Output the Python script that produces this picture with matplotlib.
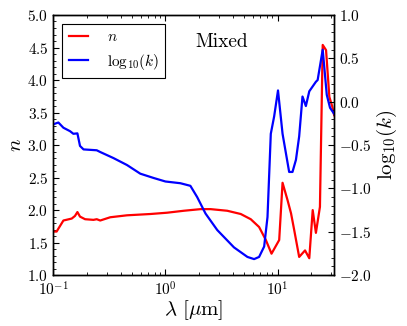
import matplotlib
matplotlib.use("Agg")
import matplotlib.pyplot as plt
from matplotlib.ticker import MultipleLocator

plt.rcParams['font.family'] = 'serif'
plt.rcParams['font.serif'] = ['cmr10']
plt.rcParams['mathtext.fontset'] = 'cm'
plt.rcParams['axes.formatter.use_mathtext'] = True

# refractive index n(lambda)
lam_n = [0.100, 0.107, 0.123, 0.146, 0.156, 0.164, 0.173, 0.192, 0.228, 0.244,
         0.262, 0.322, 0.454, 0.734, 1.035, 1.46, 2.06, 2.53, 3.56, 4.70,
         5.77, 6.85, 7.87, 8.84, 10.35, 11.09, 12.3, 13.2, 14.1, 15.6,
         17.6, 19.2, 20.6, 22.0, 23.9, 25.3, 27.1, 29.0, 30.7, 32.0]
n_vals = [1.67, 1.67, 1.84, 1.87, 1.91, 1.97, 1.90, 1.86, 1.85, 1.86,
          1.84, 1.89, 1.92, 1.94, 1.96, 1.99, 2.015, 2.015, 1.99, 1.94,
          1.86, 1.74, 1.54, 1.33, 1.54, 2.42, 2.15, 1.95, 1.69, 1.28,
          1.38, 1.26, 2.00, 1.65, 2.05, 4.54, 4.46, 3.74, 3.60, 3.46]

# log10 of extinction coefficient k(lambda)
lam_k = [0.100, 0.111, 0.123, 0.141, 0.151, 0.164, 0.173, 0.186, 0.244, 0.262,
         0.344, 0.454, 0.597, 0.787, 1.00, 1.36, 1.67, 1.92, 2.28, 2.90,
         4.09, 5.39, 6.18, 6.85, 7.60, 8.14, 8.71, 9.33, 10.1, 11.09,
         12.7, 13.6, 14.6, 15.6, 16.7, 17.9, 19.2, 22.0, 22.8, 25.3,
         27.5, 29.4, 32.0]
logk_vals = [-0.26, -0.24, -0.30, -0.34, -0.37, -0.365, -0.51, -0.55, -0.56, -0.58,
             -0.65, -0.73, -0.83, -0.88, -0.92, -0.94, -0.97, -1.10, -1.29, -1.48,
             -1.68, -1.79, -1.815, -1.79, -1.67, -1.33, -0.37, -0.17, 0.13, -0.37,
             -0.81, -0.81, -0.67, -0.40, 0.06, -0.05, 0.12, 0.23, 0.25, 0.60,
             0.08, -0.07, -0.14]

fig = plt.figure(figsize=(4.07, 3.26), dpi=100)
ax = fig.add_axes([0.131, 0.156, 0.690, 0.798])
ax2 = ax.twinx()

l1, = ax.plot(lam_n, n_vals, color='red', lw=1.6)
l2, = ax2.plot(lam_k, logk_vals, color='blue', lw=1.6)

ax.set_xscale('log')
ax.set_xlim(0.1, 32)
ax.set_ylim(1.0, 5.0)
ax2.set_ylim(-2.0, 1.0)
ax.yaxis.set_major_locator(MultipleLocator(0.5))
ax.yaxis.set_minor_locator(MultipleLocator(0.1))
ax2.yaxis.set_major_locator(MultipleLocator(0.5))
ax2.yaxis.set_minor_locator(MultipleLocator(0.1))
ax.yaxis.set_major_formatter(plt.FormatStrFormatter(r'$\mathdefault{%.1f}$'))
ax2.yaxis.set_major_formatter(plt.FormatStrFormatter(r'$\mathdefault{%.1f}$'))

for a in (ax, ax2):
    for s in a.spines.values():
        s.set_linewidth(1.0)
ax.tick_params(which='both', direction='in', top=True, labelsize=11)
ax.tick_params(which='major', length=4.5)
ax.tick_params(which='minor', length=2.2)
ax2.tick_params(which='both', direction='in', labelsize=11)
ax2.tick_params(which='major', length=4.5)
ax2.tick_params(which='minor', length=2.2)

ax.set_xlabel(r'$\lambda\ [\mu\mathrm{m}]$', fontsize=15, labelpad=0)
ax.set_ylabel(r'$n$', fontsize=15, labelpad=2)
ax2.set_ylabel(r'$\mathrm{log}_{10}(k)$', fontsize=15, labelpad=2)

ax.text(0.60, 0.895, 'Mixed', transform=ax.transAxes, fontsize=14, ha='center', va='center')

leg = ax.legend([l1, l2], [r'$n$', r'$\mathrm{log}_{10}(k)$'], loc='upper left', fontsize=11,
                fancybox=False, framealpha=1, edgecolor='black', handlelength=1.3,
                borderaxespad=0.6, handletextpad=1.2)
leg.get_frame().set_linewidth(0.8)

fig.savefig('out.png', dpi=100)
